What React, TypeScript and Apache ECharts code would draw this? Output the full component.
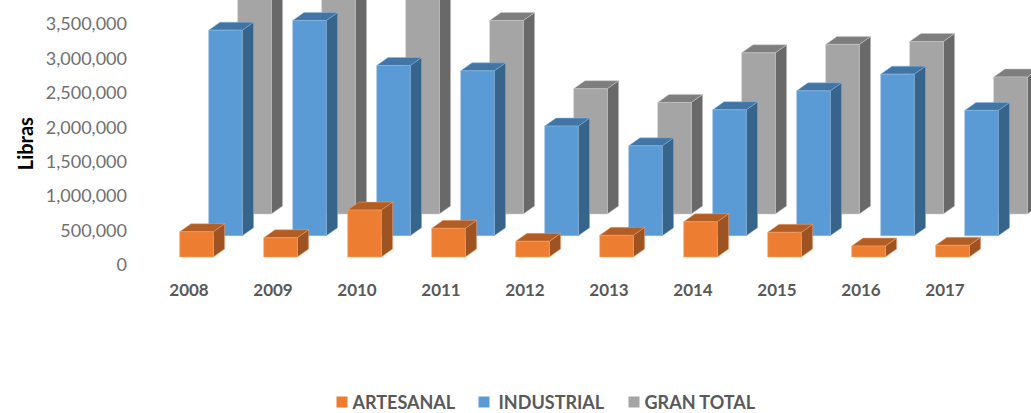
import React, { useEffect, useRef } from "react";
import * as echarts from "echarts";

const categories = ["2008", "2009", "2010", "2011", "2012", "2013", "2014", "2015", "2016", "2017"];
const artesanal = [368000, 281000, 683000, 417000, 228000, 315000, 513000, 359000, 160000, 170000];
const industrial = [2990000, 3131000, 2477000, 2398000, 1595000, 1308000, 1832000, 2108000, 2350000, 1823000];
const granTotal = [3358000, 3412000, 3160000, 2815000, 1823000, 1623000, 2345000, 2467000, 2510000, 1993000];

const FONT = "Lato";
const DEPTH_X = 11.3;
const DEPTH_Y = 8;

function bars3d(
  name: string,
  values: number[],
  z: number,
  shiftX: number,
  shiftY: number,
  front: string,
  side: string,
  top: string,
  edge: string
) {
  return {
    type: "custom",
    name,
    z,
    itemStyle: { color: front },
    encode: { x: 0, y: 1 },
    data: values.map((v, i) => [i, v]),
    renderItem: (_: any, api: any) => {
      const zero = api.coord([api.value(0), 0]);
      const head = api.coord([api.value(0), api.value(1)]);
      const w = api.size([1, 0])[0] * 0.4;
      const x0 = zero[0] + shiftX - w / 2;
      const x1 = x0 + w;
      const yb = zero[1] + shiftY;
      const yt = yb - (zero[1] - head[1]);
      return {
        type: "group",
        children: [
          {
            type: "polygon",
            shape: { points: [[x1, yt], [x1 + DEPTH_X, yt - DEPTH_Y], [x1 + DEPTH_X, yb - DEPTH_Y], [x1, yb]] },
            style: { fill: side, stroke: edge, lineWidth: 0.5 },
          },
          {
            type: "polygon",
            shape: { points: [[x0, yt], [x0 + DEPTH_X, yt - DEPTH_Y], [x1 + DEPTH_X, yt - DEPTH_Y], [x1, yt]] },
            style: { fill: top, stroke: edge, lineWidth: 0.5 },
          },
          {
            type: "rect",
            shape: { x: x0, y: yt, width: w, height: yb - yt },
            style: { fill: front, stroke: edge, lineWidth: 0.5 },
          },
        ],
      };
    },
  };
}

const legendItem = (name: string, left: number, textGap: number) => ({
  left,
  top: 393,
  padding: 0,
  itemWidth: 11,
  itemHeight: 11,
  icon: "rect",
  textStyle: {
    fontFamily: FONT,
    fontSize: 18,
    lineHeight: 16,
    fontWeight: "bold",
    color: "#595959",
    padding: [0, 0, 0, textGap],
  },
  data: [name],
});

export default function App() {
  const ref = useRef<HTMLDivElement>(null);
  useEffect(() => {
    const chart = echarts.init(ref.current!, undefined, { renderer: "svg" });
    chart.setOption({
      animation: false,
      backgroundColor: "#ffffff",
      grid: { left: 147, width: 840, top: 23.4, height: 240.6 },
      legend: [
        legendItem("ARTESANAL", 336.5, 0),
        legendItem("INDUSTRIAL", 478.5, 4),
        legendItem("GRAN TOTAL", 628.5, 0),
      ],
      xAxis: {
        type: "category",
        data: categories,
        axisLine: { show: false },
        axisTick: { show: false },
        axisLabel: { margin: 17, fontFamily: FONT, fontSize: 17, fontWeight: "bold", color: "#595959" },
      },
      yAxis: {
        type: "value",
        min: 0,
        max: 3500000,
        interval: 500000,
        name: "Libras",
        nameLocation: "middle",
        nameGap: 106,
        nameTextStyle: { fontFamily: FONT, fontSize: 20, fontWeight: "bold", color: "#000000" },
        splitLine: { show: false },
        axisLine: { show: false },
        axisTick: { show: false },
        axisLabel: {
          margin: 20,
          fontFamily: FONT,
          fontSize: 18,
          color: "#707070",
          formatter: (v: number) => v.toLocaleString("en-US"),
        },
      },
      series: [
        bars3d("ARTESANAL", artesanal, 3, 7.5, -7, "#ED7D31", "#9E5322", "#B25D24", "#F2A572"),
        bars3d("INDUSTRIAL", industrial, 2, 36.5, -28.3, "#5B9BD5", "#37648B", "#4175A6", "#8DB9E2"),
        bars3d("GRAN TOTAL", granTotal, 1, 65.5, -50, "#A5A5A5", "#696969", "#7E7E7E", "#C8C8C8"),
      ],
    });
    return () => chart.dispose();
  }, []);
  return <div ref={ref} style={{ position: "fixed", left: 0, top: 0, width: 1031, height: 413 }} />;
}
